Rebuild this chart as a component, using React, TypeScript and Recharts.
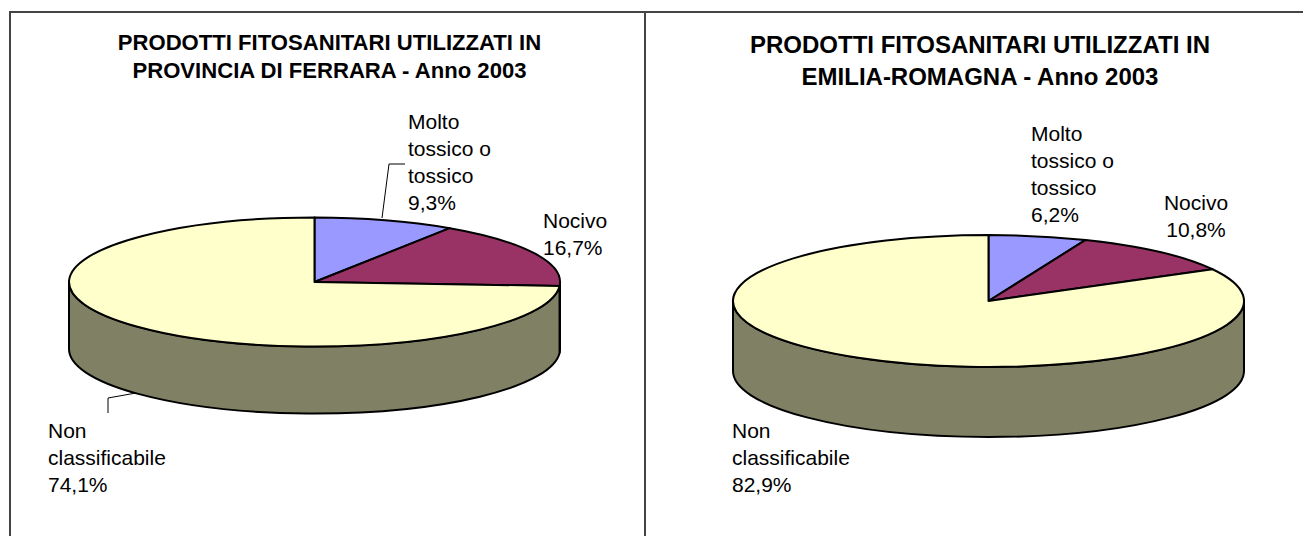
import React from 'react';
import { PieChart, Pie } from 'recharts';

const categories = ['Molto tossico o tossico', 'Nocivo', 'Non classificabile'];
const labelLines = [['Molto', 'tossico o', 'tossico'], ['Nocivo'], ['Non', 'classificabile']];
const colors = ['#9999FF', '#993366', '#FFFFCC'];
const wallColor = '#808064';

const ferraraValues = [9.3, 16.7, 74.1];
const emiliaValues = [6.2, 10.8, 82.9];

const ferraraTitle = ['PRODOTTI FITOSANITARI UTILIZZATI IN', 'PROVINCIA DI FERRARA - Anno 2003'];
const emiliaTitle = ['PRODOTTI FITOSANITARI UTILIZZATI IN', 'EMILIA-ROMAGNA - Anno 2003'];

const toRows = (values: number[]) => values.map((value, i) => ({ name: categories[i], value }));
const formatPct = (v: number) => v.toFixed(1).replace('.', ',') + '%';

// point on the flattened rim, t = degrees clockwise from the top
const rim = (cx: number, cy: number, rx: number, ry: number, t: number) => {
  const a = (t * Math.PI) / 180;
  return [cx + rx * Math.sin(a), cy - ry * Math.cos(a)];
};

type Anchor = { x: number; y: number; align: 'start' | 'middle'; leader?: number[][] };

type PanelProps = {
  left: number;
  width: number;
  values: number[];
  title: string[];
  titleSize: number;
  titleTop: number;
  titleLine: number;
  titleCenter: number;
  cx: number;
  cy: number;
  rx: number;
  ry: number;
  depth: number;
  anchors: Anchor[];
};

const Panel = (p: PanelProps) => {
  const topShape = (s: any) => {
    const t0 = 90 - s.startAngle;
    const t1 = 90 - s.endAngle;
    const [x0, y0] = rim(s.cx, s.cy, p.rx, p.ry, t0);
    const [x1, y1] = rim(s.cx, s.cy, p.rx, p.ry, t1);
    const large = t1 - t0 > 180 ? 1 : 0;
    return (
      <path
        d={`M${s.cx} ${s.cy}L${x0} ${y0}A${p.rx} ${p.ry} 0 ${large} 1 ${x1} ${y1}Z`}
        fill={colors[s.index]}
        stroke="#000"
        strokeWidth={2}
        strokeLinejoin="round"
      />
    );
  };

  // only the front half of the cylinder shows
  const wallShape = (s: any) => {
    const a = Math.max(90 - s.startAngle, 90);
    const b = Math.min(90 - s.endAngle, 270);
    if (a >= b) return <g />;
    const [x0, y0] = rim(s.cx, s.cy, p.rx, p.ry, a);
    const [x1, y1] = rim(s.cx, s.cy, p.rx, p.ry, b);
    return (
      <path
        d={`M${x0} ${y0}A${p.rx} ${p.ry} 0 0 1 ${x1} ${y1}L${x1} ${y1 + p.depth}A${p.rx} ${p.ry} 0 0 0 ${x0} ${y0 + p.depth}Z`}
        fill={wallColor}
        stroke="#000"
        strokeWidth={2}
        strokeLinejoin="round"
      />
    );
  };

  const renderLabel = (s: any) => {
    const anchor = p.anchors[s.index];
    const rows = [...labelLines[s.index], formatPct(p.values[s.index])];
    return (
      <g key={s.index}>
        {anchor.leader && (
          <polyline
            points={anchor.leader.map((q) => q.join(',')).join(' ')}
            fill="none"
            stroke="#000"
            strokeWidth={1}
          />
        )}
        {rows.map((row, i) => (
          <text
            key={i}
            x={anchor.x}
            y={anchor.y + i * 27}
            textAnchor={anchor.align}
            dominantBaseline="central"
            fontFamily="'Liberation Sans', Arial, sans-serif"
            fontSize={21}
            fill="#000"
          >
            {row}
          </text>
        ))}
      </g>
    );
  };

  const rows = toRows(p.values);

  return (
    <div style={{ position: 'absolute', left: p.left, top: 0, width: p.width, height: 536 }}>
      <PieChart width={p.width} height={536} margin={{ top: 0, right: 0, bottom: 0, left: 0 }}>
        <Pie
          data={rows}
          dataKey="value"
          nameKey="name"
          cx={p.cx}
          cy={p.cy}
          outerRadius={p.rx}
          startAngle={90}
          endAngle={-270}
          shape={wallShape}
          label={false}
          labelLine={false}
          isAnimationActive={false}
        />
        <Pie
          data={rows}
          dataKey="value"
          nameKey="name"
          cx={p.cx}
          cy={p.cy}
          outerRadius={p.rx}
          startAngle={90}
          endAngle={-270}
          shape={topShape}
          label={renderLabel}
          labelLine={false}
          isAnimationActive={false}
        />
      </PieChart>
      {p.title.map((line, i) => (
        <div
          key={i}
          style={{
            position: 'absolute',
            left: 0,
            width: p.titleCenter * 2,
            top: p.titleTop + i * p.titleLine,
            textAlign: 'center',
            fontFamily: "'Liberation Sans', Arial, sans-serif",
            fontWeight: 700,
            fontSize: p.titleSize,
            lineHeight: '20px',
            whiteSpace: 'nowrap',
          }}
        >
          {line}
        </div>
      ))}
    </div>
  );
};

export default function App() {
  return (
    <div style={{ position: 'absolute', left: 0, top: 0, width: 1303, height: 536, background: '#fff', overflow: 'hidden' }}>
      <div style={{ position: 'absolute', left: 9, top: 11, width: 1294, height: 2, background: '#444' }} />
      <div style={{ position: 'absolute', left: 9, top: 11, width: 2, height: 525, background: '#444' }} />
      <div style={{ position: 'absolute', left: 644, top: 11, width: 2, height: 525, background: '#444' }} />
      <Panel
        left={0}
        width={644}
        values={ferraraValues}
        title={ferraraTitle}
        titleSize={22.1}
        titleTop={33}
        titleLine={27.5}
        titleCenter={329.5}
        cx={314.5}
        cy={282}
        rx={245.5}
        ry={64.5}
        depth={67}
        anchors={[
          { x: 408, y: 121, align: 'start', leader: [[382, 218], [389, 164], [405, 164]] },
          { x: 543, y: 220, align: 'start' },
          { x: 48, y: 430, align: 'start', leader: [[136, 393], [108, 398], [108, 413]] },
        ]}
      />
      <Panel
        left={646}
        width={657}
        values={emiliaValues}
        title={emiliaTitle}
        titleSize={24}
        titleTop={35}
        titleLine={32}
        titleCenter={334}
        cx={342.5}
        cy={301}
        rx={255.5}
        ry={66}
        depth={70}
        anchors={[
          { x: 385, y: 133, align: 'start' },
          { x: 550, y: 202, align: 'middle' },
          { x: 86, y: 430, align: 'start' },
        ]}
      />
    </div>
  );
}
